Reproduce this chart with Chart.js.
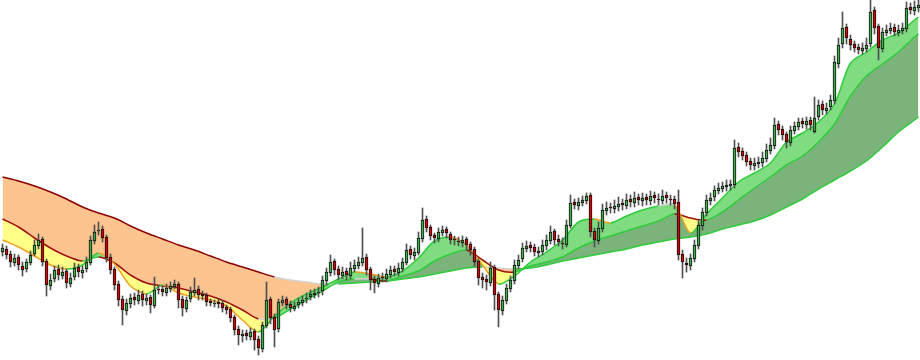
<!DOCTYPE html>
<html>
<head>
<meta charset="utf-8">
<script src="https://cdn.jsdelivr.net/npm/chart.js@4.4.0/dist/chart.umd.min.js"></script>
<style>
  html, body { margin: 0; padding: 0; background: #fff; }
  #wrap { width: 920px; height: 360px; position: relative; }
</style>
</head>
<body>
<div id="wrap"><canvas id="priceChart"></canvas></div>
<script>
// candles, oldest first (one per bar)
var opens = [
  148,151,146,137,143,134,131,137,146,154, 161,139,114,121,131,124,129,116,123,133,
  127,131,137,159,169,171,163,143,131,116, 101,89,96,103,99,106,99,103,94,111,
  111,107,111,113,116,101,91,101,107,111, 106,105,99,96,98,97,93,91,83,71,
  64,67,63,69,61,51,74,101,83,71, 97,101,96,91,95,97,101,103,105,107,
  109,119,127,139,131,124,129,124,131,134, 137,143,131,121,116,123,121,125,131,127,
  131,137,151,144,147,161,181,173,165,161, 167,171,166,161,159,157,161,156,151,139,
  123,121,117,133,106,89,99,111,119,134, 141,151,155,153,147,148,154,159,169,161,
  157,155,174,198,194,197,199,205,169,159, 171,189,193,191,193,197,194,201,197,203,
  199,203,199,205,201,199,205,201,201,198, 146,137,134,141,154,174,187,199,203,209,
  211,213,214,215,253,249,245,239,234,236, 237,241,249,254,276,271,266,257,269,273,
  279,275,280,268,283,296,289,293,299,336, 356,373,361,356,353,349,351,356,390,374,
  351,367,369,373,367,369,371,393,389,392
];
var highs = [
  156,154,149,146,145,138,141,149,160,166, 163,141,126,134,135,133,131,127,137,136,
  134,143,164,175,178,174,165,146,133,119, 104,101,106,107,110,109,106,105,123,115,
  114,116,118,120,118,104,103,113,122,114, 109,107,101,100,101,99,95,93,85,74,
  70,70,72,71,64,78,118,103,86,101, 104,103,99,98,102,104,107,110,111,113,
  124,132,145,141,134,133,132,138,140,143, 172,146,133,124,126,127,131,134,134,137,
  142,156,154,152,168,192,184,175,167,172, 174,173,168,164,163,164,163,158,153,141,
  127,125,138,135,108,104,116,124,140,145, 157,159,158,156,153,160,165,174,171,165,
  162,180,205,201,202,204,207,207,172,178, 196,198,197,200,203,201,206,205,208,206,
  207,206,209,208,206,210,208,205,204,210, 150,142,146,160,180,192,205,207,214,217,
  218,220,220,260,257,252,248,242,242,243, 248,256,262,282,279,274,268,274,278,282,
  282,283,283,303,300,299,297,305,344,362, 388,376,365,359,356,357,362,400,393,376,
  372,375,377,376,375,377,398,397,399,400
];
var lows = [
  144,141,133,134,130,124,128,135,144,151, 134,104,110,118,120,121,112,113,120,123,
  122,128,135,156,165,158,138,126,110,94, 75,85,92,95,96,94,95,87,92,106,
  104,104,108,111,92,84,88,98,104,100, 100,94,94,93,92,88,86,78,65,55,
  58,60,60,50,45,48,72,76,53,68, 94,91,88,89,92,94,97,100,102,103,
  105,115,124,125,120,121,120,121,128,131, 134,125,110,107,113,118,118,122,124,124,
  128,135,141,140,145,158,168,160,157,158, 164,162,156,155,154,153,150,145,134,115,
  112,110,114,90,73,85,96,108,116,131, 138,148,148,144,143,145,150,156,155,154,
  151,153,172,191,190,194,196,163,153,156, 168,185,187,187,189,190,191,193,193,195,
  194,195,195,197,195,196,197,195,191,140, 122,128,130,138,151,170,184,195,199,206,
  208,209,210,212,243,240,234,230,230,232, 233,238,246,251,265,260,252,254,266,270,
  272,271,270,267,280,285,286,290,296,332, 352,356,350,348,346,346,348,353,366,340,
  348,364,366,364,364,366,368,386,385,388
];
var closes = [
  152,145,138,142,135,130,138,145,155,160, 138,115,120,130,125,128,117,122,132,128,
  130,138,160,168,170,162,142,130,115,100, 90,97,102,100,105,100,102,95,110,110,
  108,112,114,116,100,92,100,108,110,105, 104,98,97,97,96,92,90,82,70,65,
  66,64,68,60,52,75,100,82,70,98, 100,95,92,94,98,100,102,106,107,108,
  120,128,138,130,125,128,125,132,135,138, 142,130,120,117,122,122,126,130,128,132,
  138,150,145,148,162,180,172,164,162,168, 170,167,160,160,158,160,155,150,138,122,
  120,118,132,105,90,100,112,120,135,140, 152,154,152,148,149,155,160,168,160,158,
  156,175,197,195,198,200,204,168,160,172, 190,192,192,194,196,195,200,198,202,200,
  202,200,204,202,200,204,202,200,196,145, 138,135,142,155,175,188,200,202,210,212,
  214,215,216,252,248,244,238,235,237,238, 242,250,255,275,270,265,258,270,274,278,
  276,279,275,282,295,290,292,300,338,355, 372,362,355,352,350,352,355,388,372,352,
  368,370,372,368,370,372,392,390,393,395
];

// moving averages, read at every 4th bar
var maIndex = [0,4,8,12,16,20,24,28,32,36,40,44,48,52,56,60,64,68,72,76,80,84,88,92,96,100,
  104,108,112,116,120,124,128,132,136,140,144,148,152,156,160,164,168,172,176,180,184,188,
  192,196,200,204,208,212,216,220,224,228,229];
var maFast = [160,153,144,135,131,135,147,136,114,106,115,107,103,100,94,80,68,84,97,106,
  113,121,128,126,123,129,142,159,163,155,135,116,124,138,148,160,178,181,177,184,190,194,
  195,167,186,202,218,227,237,258,267,278,296,337,348,360,367,380,383];
var maMid = [181,173,162,152,144,139,143,137,125,117,114,112,108,104,98,90,81,82,91,100,
  109,118,121,121,119,124,129,139,146,150,140,130,128,134,138,143,152,159,164,169,174,179,
  186,182,180,188,200,212,223,235,244,258,276,304,324,336,348,363,366];
var maSlow = [223,219,214,208,201,193,187,182,174,167,161,155,150,144,138,133,128,123,120,118,
  116,116,117,118,119,121,123,126,129,132,133,132,131,132,135,139,142,145,148,151,155,158,
  161,163,166,171,175,179,185,193,201,211,220,229,239,253,268,280,283];

var wickData = [], bodyData = [], bodyColors = [];
for (var i = 0; i < closes.length; i++) {
  wickData.push({ x: i, y: [lows[i], highs[i]] });
  bodyData.push({ x: i, y: [opens[i], closes[i]] });
  bodyColors.push(closes[i] >= opens[i] ? '#3fae49' : '#d40000');
}

function maPoints(vals) {
  return maIndex.map(function (ix, k) { return { x: ix, y: vals[k] }; });
}

// line colour follows the slope of the average
function slopeColor(down, downStep, upStep) {
  return function (ctx) {
    var d = ctx.p1.parsed.y - ctx.p0.parsed.y;
    if (d > upStep) return '#2ecc3a';
    if (d < -downStep) return down;
    return '#d4d4d4';
  };
}

// the bands are filled by plain copies, the coloured lines go on top
function band(vals, fill, order) {
  return { data: maPoints(vals), borderWidth: 0, borderColor: 'rgba(0,0,0,0)',
    tension: 0.3, pointRadius: 0, order: order, fill: fill };
}
function maLine(vals, down, downStep, upStep) {
  return { data: maPoints(vals), borderWidth: 1.5, tension: 0.3, pointRadius: 0,
    order: 5, segment: { borderColor: slopeColor(down, downStep, upStep) }, fill: false };
}

var ctx = document.getElementById('priceChart').getContext('2d');
var chart = new Chart(ctx, {
  type: 'line',
  data: {
    datasets: [
      band(maFast, { target: 1, above: '#80dc80', below: '#ffff88' }, 10),
      band(maMid, { target: 2, above: '#7ab47a', below: '#fdc490' }, 20),
      band(maSlow, false, 30),
      maLine(maFast, '#f0a020', 1.5, 1.5),
      maLine(maMid, '#a01010', 1.5, 1.5),
      maLine(maSlow, '#8b0000', 3.5, 0.5),
      {
        type: 'bar',
        data: wickData,
        backgroundColor: '#505050',
        barThickness: 1,
        grouped: false,
        order: 2
      },
      {
        type: 'bar',
        data: bodyData,
        backgroundColor: bodyColors,
        borderColor: '#111111',
        borderWidth: 1,
        borderSkipped: false,
        barThickness: 3,
        grouped: false,
        order: 1
      }
    ]
  },
  options: {
    responsive: true,
    maintainAspectRatio: false,
    animation: false,
    devicePixelRatio: 1,
    layout: { padding: 0 },
    scales: {
      x: { type: 'linear', display: false, offset: false, min: -0.625, max: 229.375 },
      y: { display: false, min: 40, max: 400 }
    },
    plugins: {
      legend: { display: false },
      tooltip: { enabled: false },
      filler: { propagate: false, drawTime: 'beforeDatasetsDraw' }
    }
  }
});
</script>
</body>
</html>
